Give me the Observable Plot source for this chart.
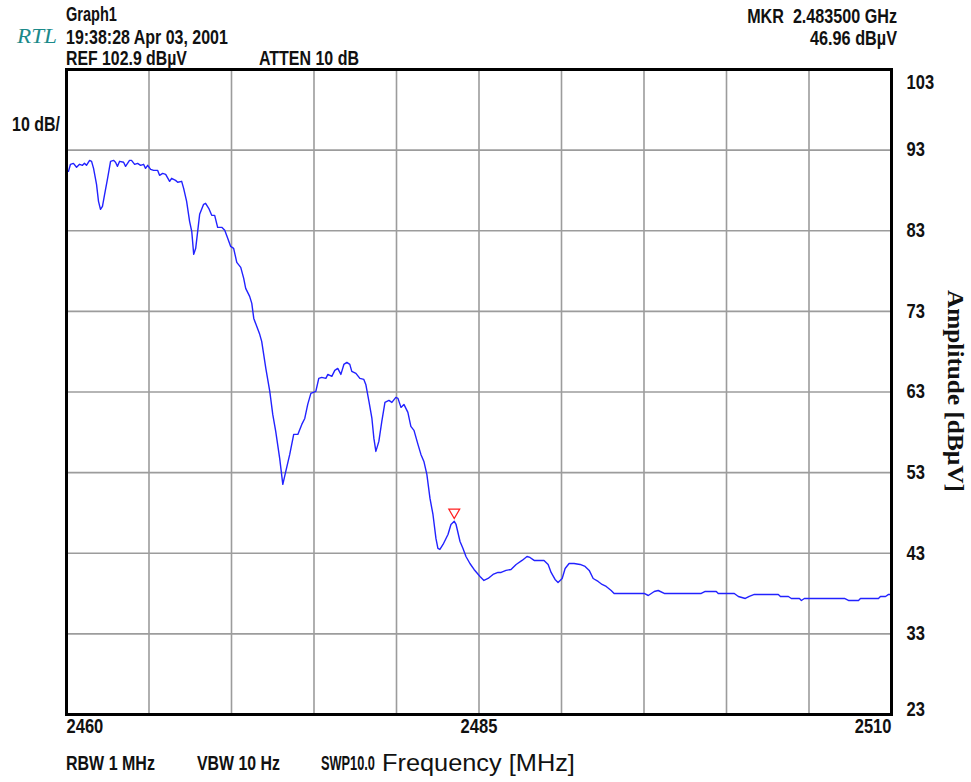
<!DOCTYPE html>
<html><head><meta charset="utf-8">
<script src="https://cdn.jsdelivr.net/npm/d3@7"></script>
<script src="https://cdn.jsdelivr.net/npm/@observablehq/plot@0.6"></script>
<style>
body{margin:0;background:#fff;}
#wrap{position:relative;width:971px;height:782px;overflow:hidden;}
#wrap svg{position:absolute;left:0;top:0;}
</style></head><body><div id="wrap"></div>
<script>
// ---- data ----
const freqMHz = [
2460.12,2460.24,2460.42,2460.61,2460.79,2460.97,2461.09,2461.21,2461.40,2461.52,
2461.64,2461.82,2461.94,2462.06,2462.18,2462.31,2462.49,2462.67,2462.85,2462.97,
2463.09,2463.22,2463.46,2463.58,2463.82,2463.94,2464.13,2464.31,2464.49,2464.67,
2464.79,2464.92,2465.10,2465.28,2465.52,2465.64,2465.83,2466.01,2466.25,2466.37,
2466.61,2466.74,2466.98,2467.10,2467.28,2467.46,2467.59,2467.71,2467.83,2467.95,
2468.07,2468.31,2468.43,2468.62,2468.80,2468.98,2469.16,2469.41,2469.59,2469.77,
2469.95,2470.13,2470.32,2470.56,2470.74,2470.86,2471.10,2471.23,2471.35,2471.71,
2471.83,2472.08,2472.32,2472.50,2472.68,2472.92,2473.11,2473.29,2473.53,2473.77,
2474.02,2474.26,2474.44,2474.62,2474.81,2475.11,2475.29,2475.47,2475.72,2475.84,
2476.08,2476.26,2476.44,2476.63,2476.81,2476.99,2477.17,2477.29,2477.54,2477.78,
2478.02,2478.14,2478.33,2478.51,2478.63,2478.75,2478.93,2479.11,2479.30,2479.54,
2479.72,2479.96,2480.09,2480.27,2480.45,2480.69,2480.87,2481.06,2481.30,2481.48,
2481.66,2481.84,2482.03,2482.21,2482.39,2482.51,2482.63,2482.82,2483.12,2483.30,
2483.50,2483.61,2483.85,2484.03,2484.21,2484.45,2484.70,2485.06,2485.30,2485.55,
2485.85,2486.15,2486.34,2486.64,2486.94,2487.25,2487.61,2487.91,2488.09,2488.34,
2488.64,2488.94,2489.19,2489.37,2489.61,2489.79,2490.04,2490.22,2490.46,2490.76,
2491.13,2491.43,2491.68,2491.92,2492.22,2492.46,2492.71,2493.01,2493.19,2495.01,
2495.26,2495.62,2495.86,2496.23,2498.47,2498.71,2499.38,2499.50,2500.47,2500.72,
2501.14,2501.38,2501.69,2503.14,2503.27,2503.75,2503.93,2504.42,2504.54,2504.72,
2507.15,2507.39,2508.00,2508.12,2509.21,2509.33,2509.64,2509.82,2510.00
];
const ampDbuV = [
90.37,91.24,91.36,90.87,91.24,91.11,91.36,91.11,91.73,91.61,
90.74,88.76,86.65,85.66,86.03,87.52,89.50,91.61,91.73,91.49,
90.99,91.61,91.49,90.99,91.73,91.73,91.24,91.36,91.11,91.24,
90.74,91.11,90.62,90.49,90.49,89.87,90.12,90.00,89.13,89.50,
89.25,89.01,89.13,88.26,86.65,84.17,82.93,80.07,80.82,82.93,
85.04,86.28,86.40,85.78,84.91,84.91,83.42,83.42,83.05,82.06,
81.06,80.82,79.08,78.46,77.09,75.85,74.86,73.99,72.13,70.15,
69.28,65.93,63.07,60.22,58.11,54.76,51.54,53.15,55.26,57.74,
57.74,58.98,59.72,61.46,62.83,63.07,64.69,64.81,64.69,65.18,
64.94,65.68,65.93,65.18,66.42,66.67,66.42,65.56,65.31,64.69,
64.56,63.94,61.83,59.72,57.24,55.63,56.87,59.35,61.71,61.96,
61.71,62.33,62.21,61.09,61.46,60.47,58.73,58.24,56.50,55.26,
54.39,52.78,49.80,47.81,44.84,43.60,43.47,44.09,45.33,46.57,
46.96,46.57,44.46,43.60,42.60,41.73,40.99,40.12,39.63,39.87,
40.37,40.62,40.62,40.87,40.99,41.61,42.11,42.60,42.48,42.11,
42.11,42.11,41.61,40.62,39.75,39.38,39.87,41.11,41.73,41.73,
41.61,41.36,40.87,39.87,39.50,39.13,38.88,38.38,38.01,38.01,
37.76,38.26,38.38,38.01,38.01,38.26,38.26,38.01,38.01,37.64,
37.39,37.64,37.89,37.89,37.64,37.64,37.39,37.39,37.14,37.39,
37.39,37.14,37.14,37.39,37.39,37.64,37.64,37.89,37.89
];
const xDomain = [2460, 2510];
const yDomain = [23, 103];
const xGridValues = [2465, 2470, 2475, 2480, 2485, 2490, 2495, 2500, 2505];
const yGridValues = [33, 43, 53, 63, 73, 83, 93];
const xTickStart = [2460];
const xTickMiddle = [2485];
const xTickEnd = [2510];
const yTickInner = [93, 83, 73, 63, 53, 43, 33];
const yTickTop = [103];
const yTickBottom = [23];
const markerFreq = [2483.5];
const markerAmp = [46.96];

const FONT = '"Liberation Sans",Arial,sans-serif';

const trace = freqMHz.map((f, i) => ({f, a: ampDbuV[i]}));
const markerPts = markerFreq.map((f, i) => ({f, a: markerAmp[i]}));

const lblOpts = {fontSize: 19.5, fill: "#111", fontFamily: FONT, fontWeight: "bold"};

const chart = Plot.plot({
  width: 971, height: 782,
  marginLeft: 66, marginRight: 80, marginTop: 69, marginBottom: 68,
  x: {domain: xDomain, axis: null},
  y: {domain: yDomain, axis: null},
  style: {fontFamily: FONT, background: "white"},
  marks: [
    Plot.ruleX(xGridValues, {stroke: "#9c9c9c", strokeWidth: 1.6}),
    Plot.ruleY(yGridValues, {stroke: "#9c9c9c", strokeWidth: 1.6}),
    Plot.line(trace, {x: "f", y: "a", stroke: "#2222ff", strokeWidth: 1.4}),
    Plot.dot(markerPts, {x: "f", y: "a", symbol: "triangle", rotate: 180, r: 4, stroke: "#ff2020", fill: "none", strokeWidth: 1.3, dy: -9}),
    Plot.frame({stroke: "black", strokeWidth: 3}),
    Plot.text(yTickInner, {y: d => d, text: d => String(d), frameAnchor: "right", textAnchor: "start", dx: 15, ...lblOpts}),
    Plot.text(yTickTop, {y: d => d, text: d => String(d), frameAnchor: "right", textAnchor: "start", dx: 15, dy: 13, ...lblOpts}),
    Plot.text(yTickBottom, {y: d => d, text: d => String(d), frameAnchor: "right", textAnchor: "start", dx: 15, dy: -5, ...lblOpts}),
    Plot.text(xTickStart, {x: d => d, text: d => String(d), frameAnchor: "bottom", lineAnchor: "top", textAnchor: "start", dy: 5, ...lblOpts}),
    Plot.text(xTickMiddle, {x: d => d, text: d => String(d), frameAnchor: "bottom", lineAnchor: "top", textAnchor: "middle", dy: 5, ...lblOpts}),
    Plot.text(xTickEnd, {x: d => d, text: d => String(d), frameAnchor: "bottom", lineAnchor: "top", textAnchor: "end", dy: 5, ...lblOpts})
  ]
});
const wrap = document.getElementById("wrap");
wrap.appendChild(chart);

// condense the numeric tick labels like the analyzer's narrow font
d3.select(chart).selectAll('g[aria-label="text"] text').each(function () {
  const n = this.textContent.length;
  this.setAttribute("textLength", n * 9.2);
  this.setAttribute("lengthAdjust", "spacingAndGlyphs");
});

// ---- annotations (instrument header / footer) ----
const ov = d3.select(wrap).append("svg")
  .attr("width", 971).attr("height", 782)
  .style("pointer-events", "none");
// place text at (x, y) and squeeze it horizontally to width w
const T = (x, y, s, w, o = {}) => {
  const t = ov.append("text").attr("x", 0).attr("y", 0).text(s)
    .attr("font-family", o.family || FONT)
    .attr("font-size", o.size || 19.5)
    .attr("fill", o.fill || "#111")
    .attr("text-anchor", o.anchor || "start")
    .attr("font-weight", o.weight || "bold")
    .style("white-space", "pre");
  if (o.style) t.attr("font-style", o.style);
  const natural = t.node().getComputedTextLength() || w;
  const sx = w / natural;
  const rot = o.rotate ? ` rotate(${o.rotate})` : "";
  t.attr("transform", `translate(${x},${y})${rot} scale(${sx},1)`);
  return t;
};
T(66, 21, "Graph1", 51);
T(17, 43, "RTL", 40, {family: '"Liberation Serif","DejaVu Serif",serif', style: "italic", weight: "normal", size: 22, fill: "#1b8a8a"});
T(66, 44, "19:38:28 Apr 03, 2001", 162);
T(66, 65, "REF 102.9 dBµV", 121);
T(259, 65, "ATTEN 10 dB", 100);
T(897, 23, "MKR  2.483500 GHz", 150, {anchor: "end"});
T(897, 45, "46.96 dBµV", 87, {anchor: "end"});
T(12, 131, "10 dB/", 48);
T(66, 770, "RBW 1 MHz", 89);
T(197, 770, "VBW 10 Hz", 83);
T(321, 770, "SWP10.0", 54);
T(382, 771, "Frequency [MHz]", 193, {size: 24, weight: "normal"});
T(948, 391, "Amplitude [dBµV]", 202, {family: '"Liberation Serif","Times New Roman",serif', weight: "bold", size: 23, anchor: "middle", rotate: 90});
</script>
</body></html>
